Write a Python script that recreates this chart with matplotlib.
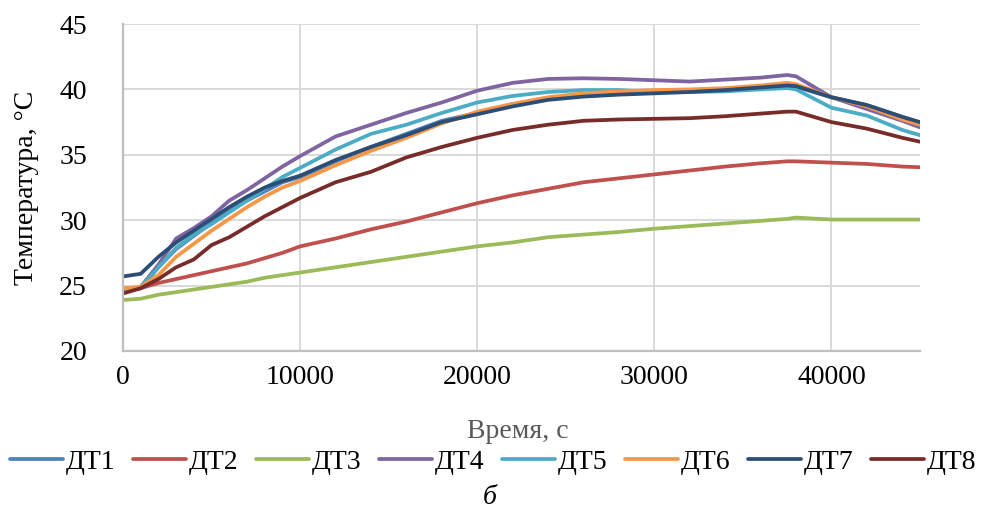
import matplotlib
matplotlib.use("Agg")
import matplotlib.pyplot as plt

plt.rcParams['font.family'] = ['Liberation Serif', 'DejaVu Serif']

t = [0, 1000, 2000, 3000, 4000, 5000, 6000, 7000, 8000, 9000, 10000, 12000, 14000,
     16000, 18000, 20000, 22000, 24000, 26000, 28000, 30000, 32000, 34000, 36000,
     37500, 38000, 40000, 42000, 44000, 45000]

dt1 = [24.6, 24.8, 26.4, 27.8, 28.8, 29.8, 30.7, 31.5, 32.2, 32.9, 33.3, 34.5, 35.6,
       36.6, 37.6, 38.2, 38.8, 39.3, 39.5, 39.65, 39.75, 39.85, 40.0, 40.2,
       40.3, 40.2, 39.4, 38.8, 37.9, 37.45]
dt2 = [24.5, 24.8, 25.2, 25.5, 25.8, 26.1, 26.4, 26.7, 27.1, 27.5, 28.0, 28.6, 29.3,
       29.9, 30.6, 31.3, 31.9, 32.4, 32.9, 33.2, 33.5, 33.8, 34.1, 34.35,
       34.5, 34.5, 34.4, 34.3, 34.1, 34.05]
dt3 = [23.9, 24.0, 24.3, 24.5, 24.7, 24.9, 25.1, 25.3, 25.6, 25.8, 26.0, 26.4, 26.8,
       27.2, 27.6, 28.0, 28.3, 28.7, 28.9, 29.1, 29.35, 29.55, 29.75, 29.95,
       30.1, 30.2, 30.05, 30.05, 30.05, 30.05]
dt4 = [24.6, 24.9, 26.6, 28.6, 29.4, 30.3, 31.5, 32.3, 33.2, 34.1, 34.9, 36.4, 37.3,
       38.2, 39.0, 39.9, 40.5, 40.8, 40.85, 40.8, 40.7, 40.6, 40.75, 40.9,
       41.1, 41.0, 39.4, 38.5, 37.6, 37.1]
dt5 = [24.6, 24.9, 26.4, 27.9, 28.9, 29.7, 30.6, 31.5, 32.4, 33.3, 34.0, 35.4, 36.6,
       37.3, 38.2, 39.0, 39.5, 39.8, 39.95, 39.95, 39.8, 39.8, 39.85, 40.0,
       40.1, 40.0, 38.6, 38.0, 36.9, 36.5]
dt6 = [24.8, 24.9, 25.8, 27.2, 28.2, 29.2, 30.1, 31.0, 31.8, 32.5, 33.0, 34.2, 35.3,
       36.3, 37.4, 38.3, 38.9, 39.4, 39.7, 39.85, 39.95, 40.0, 40.1, 40.3,
       40.5, 40.4, 39.4, 38.7, 37.7, 37.3]
dt7 = [25.7, 25.9, 27.2, 28.3, 29.2, 30.1, 31.0, 31.8, 32.5, 33.0, 33.4, 34.6, 35.6,
       36.5, 37.5, 38.1, 38.7, 39.2, 39.45, 39.6, 39.7, 39.8, 39.95, 40.15,
       40.3, 40.25, 39.4, 38.8, 37.9, 37.5]
dt8 = [24.4, 24.8, 25.5, 26.4, 27.0, 28.1, 28.7, 29.5, 30.3, 31.0, 31.7, 32.9, 33.7,
       34.8, 35.6, 36.3, 36.9, 37.3, 37.6, 37.7, 37.75, 37.8, 37.95, 38.15,
       38.3, 38.3, 37.5, 37.0, 36.3, 36.0]

names = ['ДТ1', 'ДТ2', 'ДТ3', 'ДТ4', 'ДТ5', 'ДТ6', 'ДТ7', 'ДТ8']
series = [dt1, dt2, dt3, dt4, dt5, dt6, dt7, dt8]
colors = ['#4F81BD', '#C0504D', '#9BBB59', '#8064A2', '#4BACC6', '#F79646', '#2C4D75', '#772C2A']

xticks = [0, 10000, 20000, 30000, 40000]
yticks = [20, 25, 30, 35, 40, 45]

fig = plt.figure(figsize=(9.81, 5.08), dpi=100)
ax = fig.add_axes([123/981, 1-351/508, (920-123)/981, (351-24)/508])

for name, ys, c in zip(names, series, colors):
    ax.plot(t, ys, color=c, lw=2.7, label=name, solid_capstyle='round')

ax.set_xlim(0, 45000)
ax.set_ylim(20, 45)
ax.set_xticks(xticks)
ax.set_yticks(yticks)
ax.grid(True, color='#D9D9D9', lw=1.4)
ax.set_axisbelow(True)
for s in ['top', 'right']:
    ax.spines[s].set_visible(False)
for s in ['left', 'bottom']:
    ax.spines[s].set_color('#BFBFBF')
    ax.spines[s].set_linewidth(1.6)
ax.tick_params(axis='both', length=0, labelsize=20, colors='black')
ax.tick_params(axis='y', pad=26)
ax.tick_params(axis='x', pad=10)

fig.text(27/981, 1-188/508, 'Температура, °C', rotation=90, ha='center', va='center', fontsize=20)
fig.text(518/981, 1-432/508, 'Время, с', ha='center', va='center', fontsize=20, color='#595959')
fig.text(490/981, 1-497/508, 'б', ha='center', va='center', fontsize=20, style='italic')

fig.legend(loc='center', bbox_to_anchor=(493/981, 1-462/508), ncol=8, frameon=False,
           fontsize=20, handlelength=1.9, handletextpad=0.1, columnspacing=0.64,
           borderaxespad=0, borderpad=0)

fig.savefig('out.png', dpi=100)
